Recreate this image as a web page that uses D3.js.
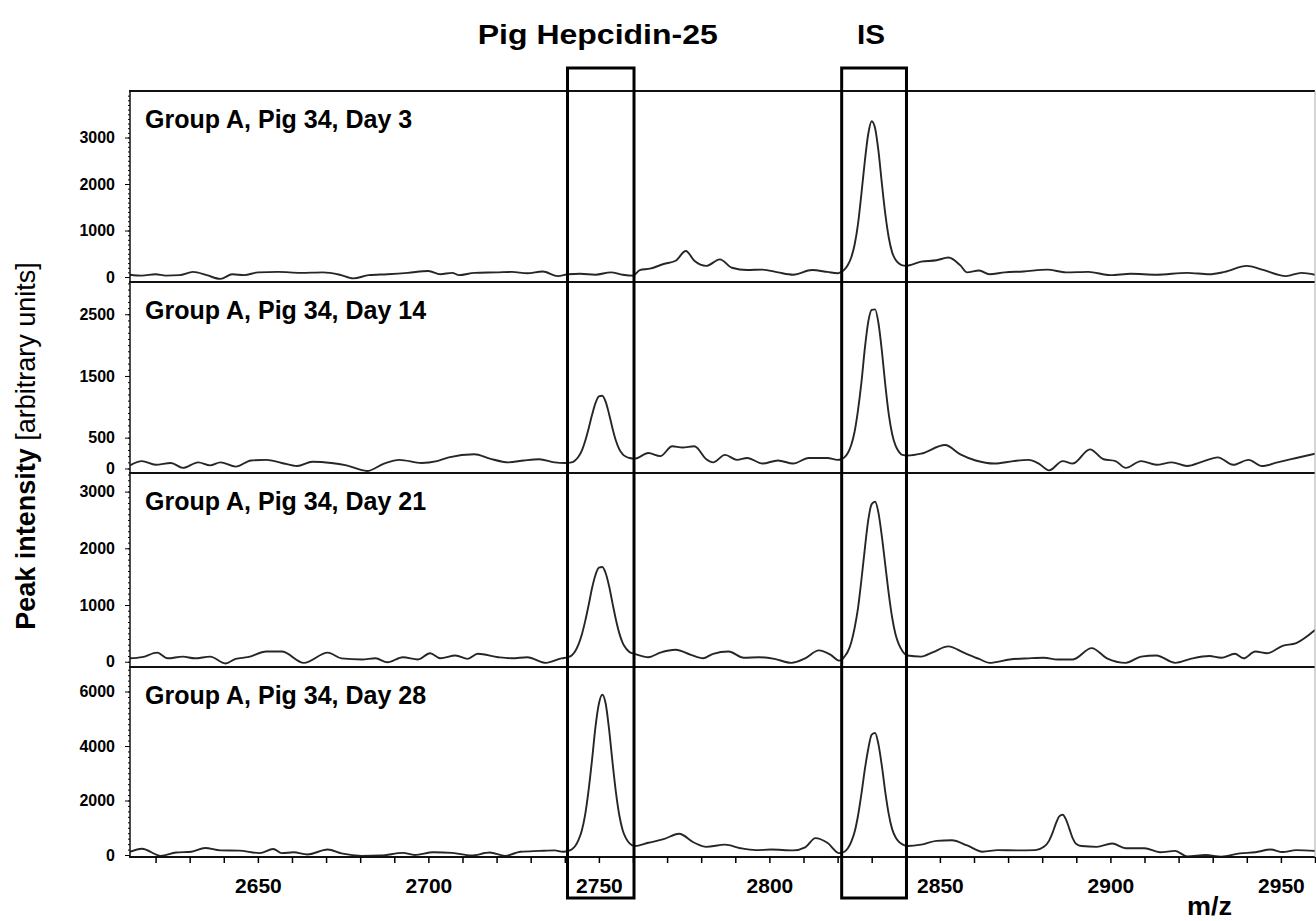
<!DOCTYPE html>
<html>
<head>
<meta charset="utf-8">
<script src="https://cdn.jsdelivr.net/npm/d3@7"></script>
<style>
body { margin: 0; background: #fff; }
svg { display: block; background: #fff; }
text { font-family: "Liberation Sans", Arial, sans-serif; fill: #000; }
</style>
</head>
<body>
<div id="chart"></div>
<script>
var panelLabels = ["Group A, Pig 34, Day 3", "Group A, Pig 34, Day 14", "Group A, Pig 34, Day 21", "Group A, Pig 34, Day 28"];
var yDomains = [[-107, 4000], [-73, 3023], [-93, 3328], [-73, 6900]];
var yTickValues = [[0, 1000, 2000, 3000], [0, 500, 1500, 2500], [0, 1000, 2000, 3000], [0, 2000, 4000, 6000]];
var xDomain = [2612.5, 2960];
var xTickValues = [2650, 2700, 2750, 2800, 2850, 2900, 2950];
var boxLabels = ["Pig Hepcidin-25", "IS"];
var boxRanges = [[2740.8, 2760.3], [2821.2, 2840.2]];

// [m/z, peak intensity]
var day3 = [[2612.5,50],[2616,30],[2620,60],[2623,30],[2627,40],[2631,110],[2635,40],[2639,-40],[2642.5,60],[2646,40],[2650,100],[2656,110],[2662.5,90],[2669,100],[2674,50],[2678,-30],[2682.5,40],[2688,60],[2694,90],[2700,130],[2703.5,60],[2707,90],[2709,40],[2713.5,90],[2720,100],[2724.5,110],[2729,80],[2733.5,120],[2738,20],[2741,60],[2744.5,70],[2749,50],[2753.5,100],[2757,50],[2760,30],[2762,150],[2765,180],[2769,280],[2772.5,350],[2775.5,560],[2778,350],[2781.5,240],[2785.5,380],[2789,200],[2793.5,150],[2798,160],[2802.5,100],[2807,50],[2812.5,150],[2817,110],[2820,80],[2821,110],[2822,160],[2823,260],[2824,420],[2825,700],[2826,1150],[2827,1800],[2828,2500],[2829,3080],[2830,3350],[2831,3200],[2832,2700],[2833,2000],[2834,1350],[2835,850],[2836,530],[2837,370],[2838,290],[2839,250],[2840,240],[2844.5,330],[2849,360],[2852.5,420],[2856,250],[2858,100],[2861.5,140],[2864.5,60],[2869,100],[2874.5,120],[2881.5,160],[2887,100],[2893.5,110],[2900,40],[2906,70],[2913.5,50],[2922.5,90],[2929,60],[2933.5,110],[2940,240],[2944.5,160],[2951.5,20],[2956,90],[2960,50]];

var day14 = [[2612.5,50],[2616,120],[2620,60],[2624.5,90],[2628,10],[2632.5,100],[2636,50],[2639,100],[2643.5,30],[2648,130],[2652.5,140],[2657,90],[2661.5,40],[2666,110],[2671.5,90],[2676,50],[2682,-40],[2687,80],[2691.5,140],[2698,90],[2702.5,120],[2706,180],[2713.5,230],[2718,160],[2723.5,100],[2728,130],[2732.5,150],[2737,100],[2740,90],[2742,100],[2743,130],[2744,190],[2745,290],[2746,450],[2747,650],[2748,870],[2749,1060],[2750,1170],[2751,1180],[2752,1080],[2753,880],[2754,650],[2755,450],[2756,310],[2757,230],[2758,190],[2759,170],[2760.5,160],[2764.5,250],[2768,200],[2771.5,360],[2774.5,340],[2778,360],[2781.5,150],[2783.5,100],[2787,220],[2790.5,140],[2793.5,170],[2798,80],[2802.5,130],[2807,80],[2811.5,170],[2817,170],[2820,140],[2821,150],[2822,180],[2823,250],[2824,380],[2825,600],[2826,950],[2827,1400],[2828,1950],[2829,2380],[2830,2570],[2831,2580],[2832,2350],[2833,1900],[2834,1350],[2835,880],[2836,560],[2837,370],[2838,270],[2839,220],[2840.5,210],[2844.5,240],[2851.5,380],[2856,230],[2860.5,130],[2866,80],[2871.5,120],[2876,140],[2879,80],[2882,-30],[2886,120],[2889,80],[2894,310],[2898,150],[2901.5,120],[2904.5,10],[2909,120],[2913.5,60],[2918,100],[2922.5,40],[2927,110],[2931.5,180],[2936,60],[2940.5,140],[2944.5,40],[2949,100],[2954.5,170],[2960,240]];

var day21 = [[2612.5,60],[2616,80],[2620.5,160],[2623.5,60],[2628,90],[2631.5,60],[2636,90],[2640.5,-30],[2643.5,50],[2647,80],[2652.5,180],[2657,180],[2663.5,-20],[2670.5,160],[2674.5,60],[2680.5,40],[2684.5,60],[2688,-10],[2692.5,80],[2697,40],[2700.5,150],[2703.5,60],[2708,110],[2711.5,50],[2714.5,140],[2720.5,80],[2724.5,60],[2729,80],[2734.5,-20],[2739,60],[2741,80],[2742,110],[2743,180],[2744,300],[2745,480],[2746,720],[2747,1000],[2748,1300],[2749,1530],[2750,1660],[2751,1670],[2752,1560],[2753,1330],[2754,1030],[2755,740],[2756,500],[2757,330],[2758,230],[2759,170],[2760.5,140],[2764.5,80],[2768,160],[2772.5,210],[2777,120],[2780.5,60],[2783.5,140],[2788,180],[2792.5,70],[2797,80],[2801.5,50],[2806.5,-20],[2810.5,60],[2814.5,200],[2818,120],[2820.5,20],[2821.5,50],[2822,90],[2823,180],[2824,340],[2825,600],[2826,950],[2827,1450],[2828,2000],[2829,2500],[2830,2780],[2831,2820],[2832,2620],[2833,2200],[2834,1700],[2835,1200],[2836,780],[2837,480],[2838,300],[2839,190],[2840.5,110],[2844.5,90],[2848,170],[2852.5,270],[2857,160],[2861.5,50],[2864.5,-20],[2870.5,40],[2876,60],[2880.5,70],[2884.5,40],[2889,40],[2894.5,240],[2899,60],[2904.5,-20],[2909,90],[2913.5,110],[2919,-20],[2923.5,50],[2929,100],[2932.5,70],[2936.5,140],[2939,60],[2942.5,180],[2946,150],[2950.5,280],[2954.5,330],[2960,560]];

var day28 = [[2612.5,120],[2616,230],[2621.5,-30],[2626,90],[2630.5,120],[2634.5,260],[2639,170],[2644.5,160],[2650.5,70],[2654.5,220],[2657,70],[2660.5,100],[2664.5,20],[2670.5,200],[2674.5,60],[2680.5,-30],[2686,-20],[2692.5,80],[2696,0],[2701.5,100],[2707,80],[2712.5,-20],[2718,90],[2722.5,-30],[2727,120],[2732.5,150],[2737,170],[2739.5,120],[2741,150],[2742,200],[2743,320],[2744,550],[2745,900],[2746,1500],[2747,2400],[2748,3500],[2749,4700],[2750,5550],[2751,5880],[2752,5550],[2753,4600],[2754,3400],[2755,2300],[2756,1450],[2757,900],[2758,600],[2759,430],[2760.5,330],[2764.5,450],[2769,580],[2773.5,780],[2778,450],[2781.5,300],[2787,380],[2791.5,250],[2796,180],[2800.5,200],[2807,170],[2810.5,280],[2813.5,620],[2817,450],[2820.5,70],[2822,120],[2823,250],[2824,480],[2825,850],[2826,1450],[2827,2250],[2828,3150],[2829,3900],[2830,4420],[2831,4480],[2832,4050],[2833,3250],[2834,2300],[2835,1500],[2836,950],[2837,650],[2838,480],[2839,390],[2840.5,330],[2844.5,380],[2849,520],[2853.5,540],[2858,350],[2862.5,120],[2867,180],[2872.5,170],[2878,180],[2880.5,300],[2882,520],[2883,800],[2884,1150],[2885,1420],[2886,1480],[2887,1300],[2888,950],[2889,600],[2890,400],[2891.5,330],[2896,300],[2900.5,420],[2904.5,250],[2910,250],[2914.5,100],[2919,150],[2922.5,-50],[2928,0],[2932.5,-60],[2938,60],[2942.5,100],[2947,200],[2950.5,110],[2954.5,180],[2960,150]];

var spectra = [day3, day14, day21, day28];

var width = 1316, height = 921;
var left = 130, right = 1315;
var panelEdges = [91, 282, 473, 667, 857];

var svg = d3.select("#chart").append("svg")
    .attr("width", width)
    .attr("height", height);

var x = d3.scaleLinear().domain(xDomain).range([left, right]);

var line = d3.line().curve(d3.curveMonotoneX);

spectra.forEach(function(data, i) {
    var top = panelEdges[i], bottom = panelEdges[i + 1];
    var y = d3.scaleLinear().domain(yDomains[i]).range([bottom, top]);

    svg.append("clipPath").attr("id", "clip-" + i)
        .append("rect")
        .attr("x", left).attr("y", top)
        .attr("width", right - left).attr("height", bottom - top);

    line.x(function(d) { return x(d[0]); })
        .y(function(d) { return y(d[1]); });

    svg.append("path")
        .datum(data)
        .attr("clip-path", "url(#clip-" + i + ")")
        .attr("d", line)
        .attr("fill", "none")
        .attr("stroke", "#262626")
        .attr("stroke-width", 1.9)
        .attr("stroke-linejoin", "round");

    // minor ticks along the left axis
    var minor = i === 3 ? 200 : 100;
    var minorAxis = svg.append("g")
        .attr("transform", "translate(" + left + ",0)")
        .call(d3.axisLeft(y).tickValues(d3.range(0, yDomains[i][1], minor)).tickSize(2).tickFormat(""));
    minorAxis.select(".domain").remove();

    var yAxis = svg.append("g")
        .attr("transform", "translate(" + left + ",0)")
        .call(d3.axisLeft(y).tickValues(yTickValues[i]).tickSize(5).tickPadding(10).tickFormat(d3.format("d")));
    yAxis.select(".domain").remove();
    yAxis.selectAll("text")
        .attr("font-size", 16)
        .attr("font-weight", "bold")
        .attr("font-family", "Liberation Sans, Arial, sans-serif");

    svg.append("text")
        .attr("x", 145)
        .attr("y", top + 37)
        .attr("font-size", 25)
        .attr("font-weight", "bold")
        .text(panelLabels[i]);
});

// frame
svg.selectAll(".hline").data(panelEdges).enter().append("line")
    .attr("x1", left - 1).attr("x2", right)
    .attr("y1", function(d) { return d; }).attr("y2", function(d) { return d; })
    .attr("stroke", "#111").attr("stroke-width", 2);

svg.append("line")
    .attr("x1", left).attr("x2", left)
    .attr("y1", panelEdges[0]).attr("y2", panelEdges[4])
    .attr("stroke", "#111").attr("stroke-width", 1.5);

svg.append("line")
    .attr("x1", right).attr("x2", right)
    .attr("y1", panelEdges[0]).attr("y2", panelEdges[4])
    .attr("stroke", "#aaa").attr("stroke-width", 1);

// m/z axis
var xAxis = svg.append("g")
    .attr("transform", "translate(0," + panelEdges[4] + ")")
    .call(d3.axisBottom(x)
        .tickValues(d3.range(2620, 2961, 10))
        .tickSize(6)
        .tickPadding(15)
        .tickFormat(function(d) { return xTickValues.indexOf(d) >= 0 ? d : ""; }));
xAxis.select(".domain").remove();
xAxis.selectAll("line").attr("stroke-width", 1.5);
xAxis.selectAll("text")
    .attr("font-size", 21)
    .attr("font-weight", "bold")
    .attr("font-family", "Liberation Sans, Arial, sans-serif");

svg.append("text")
    .attr("x", 1187)
    .attr("y", 915)
    .attr("font-size", 26)
    .attr("font-weight", "bold")
    .attr("font-family", "Liberation Serif, Times New Roman, serif")
    .attr("textLength", 45)
    .attr("lengthAdjust", "spacingAndGlyphs")
    .text("m/z");

// peak boxes
svg.selectAll(".box").data(boxRanges).enter().append("rect")
    .attr("x", function(d) { return x(d[0]); })
    .attr("y", 68)
    .attr("width", function(d) { return x(d[1]) - x(d[0]); })
    .attr("height", 830)
    .attr("fill", "none")
    .attr("stroke", "#000")
    .attr("stroke-width", 3);

var titleWidths = [240, 28];
svg.selectAll(".boxlabel").data(boxRanges).enter().append("text")
    .attr("x", function(d) { return x((d[0] + d[1]) / 2) - 3; })
    .attr("y", 44)
    .attr("text-anchor", "middle")
    .attr("font-size", 27)
    .attr("font-weight", "bold")
    .attr("textLength", function(d, i) { return titleWidths[i]; })
    .attr("lengthAdjust", "spacingAndGlyphs")
    .text(function(d, i) { return boxLabels[i]; });

// y axis title
var ylab = svg.append("text")
    .attr("transform", "translate(35,446) rotate(-90)")
    .attr("text-anchor", "middle")
    .attr("font-size", 27);
ylab.append("tspan").attr("font-weight", "bold").text("Peak intensity");
ylab.append("tspan").text(" [arbitrary units]");
</script>
</body>
</html>
